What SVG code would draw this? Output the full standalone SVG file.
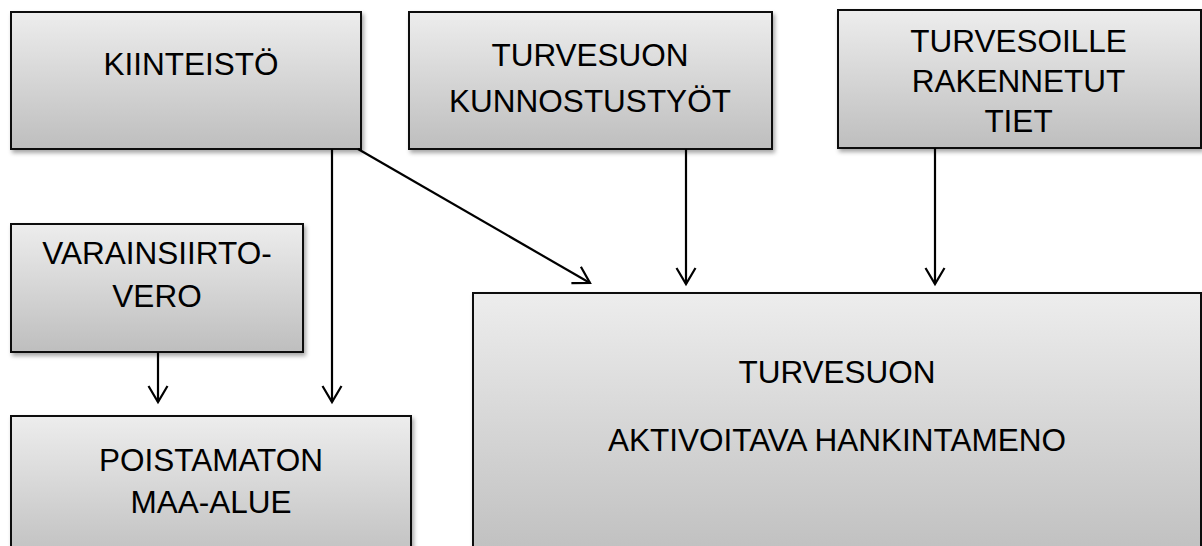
<svg xmlns="http://www.w3.org/2000/svg" width="1202" height="546" viewBox="0 0 1202 546">
<defs>
<linearGradient id="g" x1="0" y1="0" x2="0" y2="1">
<stop offset="0" stop-color="#ededed"/>
<stop offset="1" stop-color="#bebebe"/>
</linearGradient>
<filter id="sh" x="-5%" y="-5%" width="115%" height="125%">
<feDropShadow dx="2" dy="3" stdDeviation="2" flood-color="#000" flood-opacity="0.35"/>
</filter>
<marker id="arr" markerUnits="userSpaceOnUse" markerWidth="24" markerHeight="24" viewBox="-20 -12 24 24" refX="0" refY="0" orient="auto">
<path d="M-16,-9.5 L0,0 L-16,9.5" fill="none" stroke="#000" stroke-width="2.2"/>
</marker>
<style>
.box{fill:url(#g);stroke:#111;stroke-width:2;filter:url(#sh)}
.t{font-family:"Liberation Sans",Arial,sans-serif;font-size:31.5px;fill:#000;text-anchor:middle}
.c{fill:none;stroke:#000;stroke-width:2.2;marker-end:url(#arr)}
</style>
</defs>
<rect width="1202" height="546" fill="#fff"/>
<g id="kiinteisto">
<rect class="box" x="11" y="12" width="350" height="137"/>
<text class="t" x="191" y="75">KIINTEISTÖ</text>
</g>
<g id="kunnostustyot">
<rect class="box" x="409" y="12" width="363" height="137"/>
<text class="t" x="590" y="66">TURVESUON</text>
<text class="t" x="590" y="112">KUNNOSTUSTYÖT</text>
</g>
<g id="tiet">
<rect class="box" x="838" y="10" width="363" height="138"/>
<text class="t" x="1018.5" y="52">TURVESOILLE</text>
<text class="t" x="1018.5" y="92">RAKENNETUT</text>
<text class="t" x="1018.5" y="132">TIET</text>
</g>
<g id="varainsiirtovero">
<rect class="box" x="11" y="224" width="292" height="128"/>
<text class="t" x="157" y="264">VARAINSIIRTO-</text>
<text class="t" x="157" y="307">VERO</text>
</g>
<g id="maa-alue">
<rect class="box" x="11" y="416" width="400" height="150"/>
<text class="t" x="211" y="471">POISTAMATON</text>
<text class="t" x="211" y="513">MAA-ALUE</text>
</g>
<g id="hankintameno">
<rect class="box" x="473" y="293" width="728" height="273"/>
<text class="t" x="837" y="383" font-size="32px">TURVESUON</text>
<text class="t" x="837" y="451" font-size="32px">AKTIVOITAVA HANKINTAMENO</text>
</g>
<g id="connectors">
<line class="c" x1="332" y1="149" x2="332" y2="402"/>
<line class="c" x1="358" y1="149" x2="590" y2="283"/>
<line class="c" x1="158" y1="352" x2="158" y2="402"/>
<line class="c" x1="686" y1="149" x2="686" y2="284"/>
<line class="c" x1="935" y1="148" x2="935" y2="284"/>
</g>
</svg>
